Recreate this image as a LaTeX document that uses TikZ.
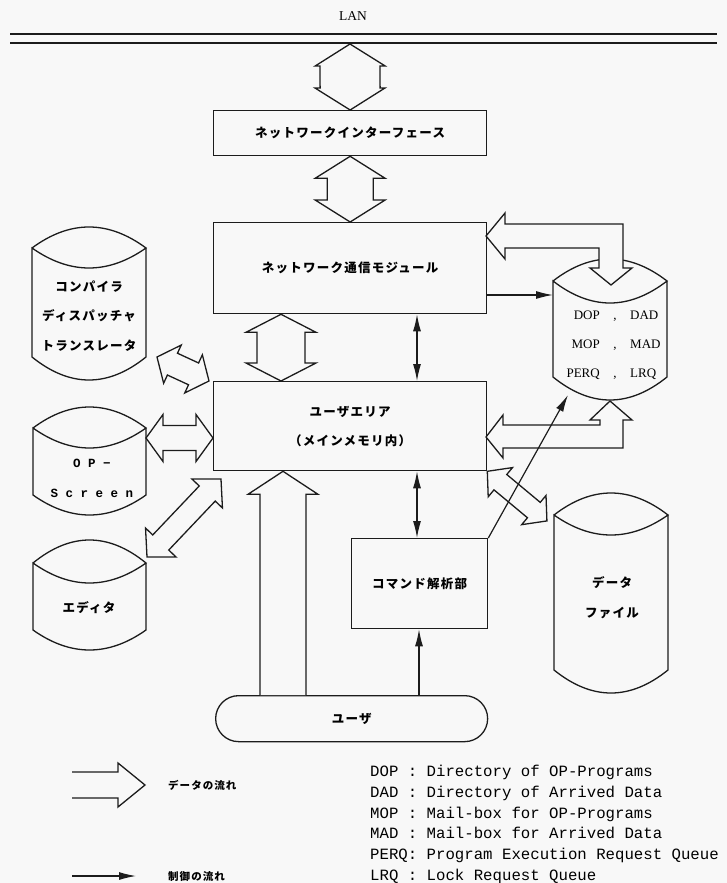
\documentclass[tikz,border=0pt]{standalone}
\usepackage{fontspec}
\setmainfont{Liberation Serif}
\setmonofont{Liberation Mono}
\newfontfamily\jpfont{Noto Sans CJK JP}[LetterSpace=10]
\newfontfamily\spacedmono{Liberation Mono}[LetterSpace=60]
\usetikzlibrary{arrows.meta,calc}

\definecolor{paper}{HTML}{F8F8F8}
\definecolor{ink}{HTML}{1C1C1C}

% hollow double arrow: ends, half shaft, half head, head length
\newcommand{\flowpair}[5]{%
  \path[flow] let \p1=(#1), \p2=(#2),
      \n1={atan2(\y2-\y1,\x2-\x1)}, \n2={veclen(\x2-\x1,\y2-\y1)} in
    [shift={(\p1)}, rotate=\n1]
    (0pt,0pt) -- (#5pt,#4pt) -- (#5pt,#3pt) -- ({\n2-#5pt},#3pt)
    -- ({\n2-#5pt},#4pt) -- (\n2,0pt) -- ({\n2-#5pt},-#4pt)
    -- ({\n2-#5pt},-#3pt) -- (#5pt,-#3pt) -- (#5pt,-#4pt) -- cycle;}

% hollow arrow with open tail
\newcommand{\flowone}[5]{%
  \path[flow] let \p1=(#1), \p2=(#2),
      \n1={atan2(\y2-\y1,\x2-\x1)}, \n2={veclen(\x2-\x1,\y2-\y1)} in
    [shift={(\p1)}, rotate=\n1]
    (0pt,#3pt) -- ({\n2-#5pt},#3pt) -- ({\n2-#5pt},#4pt) -- (\n2,0pt)
    -- ({\n2-#5pt},-#4pt) -- ({\n2-#5pt},-#3pt) -- (0pt,-#3pt);}

% drum: left, right, rim, bottom, lid bulge, lid dip, bottom bulge
\newcommand{\drum}[7]{%
  \draw[drum] (#1,#3)
    .. controls ({#1+(#2-#1)/3},{#3-4*#5/3}) and ({#2-(#2-#1)/3},{#3-4*#5/3}) .. (#2,#3)
    .. controls ({#2-(#2-#1)/3},{#3+4*#6/3}) and ({#1+(#2-#1)/3},{#3+4*#6/3}) .. (#1,#3)
    -- (#1,#4)
    .. controls ({#1+(#2-#1)/3},{#4+4*#7/3}) and ({#2-(#2-#1)/3},{#4+4*#7/3}) .. (#2,#4)
    -- (#2,#3);}

\begin{document}
\begin{tikzpicture}[x=1pt, y=-1pt,
    box/.style={draw=ink, line width=1.3pt, inner sep=0pt, align=center,
      font=\jpfont\bfseries\fontsize{12.5}{29}\selectfont},
    tag/.style={inner sep=0pt, align=center,
      font=\jpfont\bfseries\fontsize{12.5}{29.5}\selectfont},
    keytext/.style={inner sep=0pt, anchor=west,
      font=\jpfont\bfseries\fontsize{10.5}{12}\selectfont},
    defline/.style={inner sep=0pt, anchor=base west,
      font=\ttfamily\fontsize{15.7}{18}\selectfont},
    flow/.style={draw=ink, fill=paper, line width=1.3pt, line join=miter},
    ctrl/.style={draw=ink, line width=1.2pt,
      {Latex[length=17pt,width=8pt]}-{Latex[length=17pt,width=8pt]}},
    ctrlto/.style={draw=ink, line width=1.2pt, -{Latex[length=17pt,width=8pt]}},
    drum/.style={draw=ink, line width=1.3pt},
    lanbus/.style={draw=ink, double=paper, double distance=7pt, line width=1.6pt}]

  % Paper
  \fill[paper] (0,0) rectangle (727,883);
  \useasboundingbox (0,0) rectangle (727,883);

  % LAN
  \node[font=\fontsize{13.5}{15}\selectfont] (lan) at (353,16) {LAN};
  \coordinate (lan-w) at (10,38.5);
  \coordinate (lan-e) at (717,38.5);
  \draw[lanbus] (lan-w) -- (lan-e);
  \coordinate (lan-tap) at (350,44);

  % Modules
  \node[box, anchor=north west, minimum width=273pt, minimum height=45pt] (ni) at (213,110) {ネットワークインターフェース};
  \node[box, anchor=north west, minimum width=273pt, minimum height=91pt] (comm) at (213,222) {ネットワーク通信モジュール};
  \node[box, anchor=north west, minimum width=273pt, minimum height=89pt] (user) at (213,381) {ユーザエリア\\（メインメモリ内）};
  \node[box, anchor=north west, minimum width=136pt, minimum height=90pt] (cmd) at (351,538) {コマンド解析部};
  \node[box, anchor=north west, minimum width=272pt, minimum height=46pt, rounded corners=23pt] (person) at (215,695) {ユーザ};

  % Files
  \drum{32}{146}{248}{357}{21}{20}{23}
  \node[tag] (tools) at (89,316) {コンパイラ\\ディスパッチャ\\トランスレータ};
  \drum{33}{146}{428}{495}{21}{20}{20}
  \node[tag, font=\spacedmono\bfseries\fontsize{12.5}{30}\selectfont] (screen) at (92,478) {OP−\\Screen};
  \drum{33}{146}{563}{630}{23}{20}{20}
  \node[tag] (editor) at (89,608) {エディタ};
  \drum{553}{667}{281}{377}{22}{22}{23}
  \foreach \l/\r [count=\i] in {DOP/DAD, MOP/MAD, PERQ/LRQ} {
    \node[inner sep=0pt, anchor=base east, font=\fontsize{13}{15}\selectfont] (q\i l) at (600,290.5+29*\i) {\l};
    \node[inner sep=0pt, anchor=base, font=\fontsize{13}{15}\selectfont] (q\i c) at (615,290.5+29*\i) {,};
    \node[inner sep=0pt, anchor=base west, font=\fontsize{13}{15}\selectfont] (q\i r) at (630,290.5+29*\i) {\r};
  }
  \drum{554}{668}{515}{670}{22}{20}{23}
  \node[tag, font=\jpfont\bfseries\fontsize{12.5}{30}\selectfont] (datafile) at (612,598) {データ\\ファイル};

  % Data flow
  \flowpair{lan-tap}{ni.north}{30}{35}{22}
  \flowpair{ni.south}{comm.north}{23}{35}{22}
  \coordinate (dtx) at (281,0);
  \flowpair{comm.south -| dtx}{user.north -| dtx}{24}{35}{18}
  \coordinate (upx) at (283,0);
  \flowone{person.north -| upx}{user.south -| upx}{23}{35}{23}
  \coordinate (tools-port) at (157,357);
  \coordinate (user-nw) at (209,381);
  \flowpair{tools-port}{user-nw}{12}{21}{17}
  \coordinate (screen-port) at (146,438);
  \flowpair{screen-port}{user.west |- screen-port}{12.5}{23.5}{17}
  \coordinate (editor-port) at (147,557);
  \coordinate (user-sw) at (221,479);
  \flowpair{editor-port}{user-sw}{11}{21}{20}
  \coordinate (data-port) at (547,521);
  \flowpair{user.south east}{data-port}{10}{19}{17}

  % queues <-> modules
  \coordinate (comm-port) at (486,236);
  \path[flow] (comm-port) -- ++(19,-23) -- ++(0,11) -- ++(118,0) -- ++(0,44)
    -- ++(9,0) -- ++(-21,17) -- ++(-21,-17) -- ++(9,0) -- ++(0,-20)
    -- ++(-94,0) -- ++(0,11) -- cycle;
  \coordinate (user-port) at (486,437);
  \path[flow] (user-port) -- ++(17,-22) -- ++(0,10) -- ++(97,0) -- ++(0,-5)
    -- ++(-10,0) -- ++(20,-19) -- ++(22,19) -- ++(-9,0) -- ++(0,28)
    -- ++(-120,0) -- ++(0,10) -- cycle;

  % Control flow
  \coordinate (ctlx) at (417,0);
  \draw[ctrl] (comm.south -| ctlx) -- (user.north -| ctlx);
  \draw[ctrl] (user.south -| ctlx) -- (cmd.north -| ctlx);
  \coordinate (cmdx) at (419,0);
  \draw[ctrlto] (person.north -| cmdx) -- (cmd.south -| cmdx);
  \coordinate (queue-w) at (553,295);
  \draw[ctrlto] (comm.east |- queue-w) -- (queue-w);
  \coordinate (queue-s) at (568,395);
  \draw[ctrlto] (cmd.north east) -- (queue-s);

  % Key
  \coordinate (key-a) at (72,785);
  \coordinate (key-b) at (145,785);
  \flowone{key-a}{key-b}{13}{22}{27}
  \node[keytext] (key-data) at (168,785) {データの流れ};
  \coordinate (key-c) at (72,876);
  \coordinate (key-d) at (136,876);
  \draw[ctrlto] (key-c) -- (key-d);
  \node[keytext] (key-ctrl) at (168,876) {制御の流れ};

  \foreach \txt [count=\i] in {DOP : Directory of OP-Programs,
      DAD : Directory of Arrived Data, MOP : Mail-box for OP-Programs,
      MAD : Mail-box for Arrived Data, PERQ: Program Execution Request Queue,
      LRQ : Lock Request Queue}
    \node[defline] (def\i) at (370,755.7+20.8*\i) {\txt};

\end{tikzpicture}
\end{document}
